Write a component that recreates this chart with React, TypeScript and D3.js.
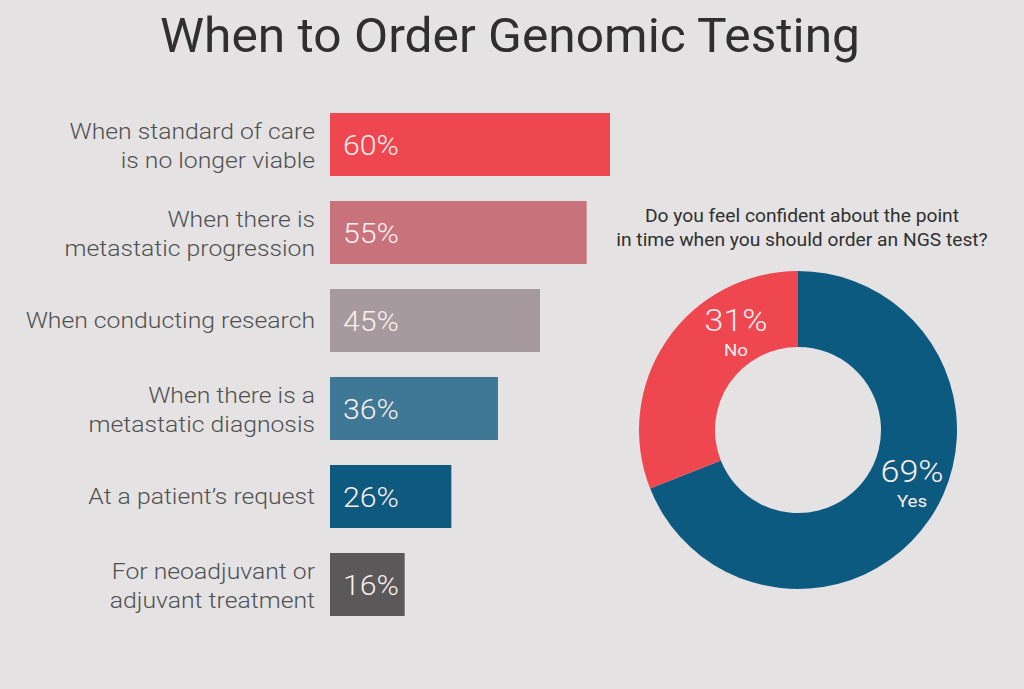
import React from "react";
import * as d3 from "d3";

const categories: string[][] = [
  ["When standard of care", "is no longer viable"],
  ["When there is", "metastatic progression"],
  ["When conducting research"],
  ["When there is a", "metastatic diagnosis"],
  ["At a patient\u2019s request"],
  ["For neoadjuvant or", "adjuvant treatment"],
];
const values = [60, 55, 45, 36, 26, 16];
const barColors = ["#ef4750", "#c8737c", "#a69a9e", "#3e7895", "#0e5a7e", "#5a5859"];

const donutLabels = ["Yes", "No"];
const donutValues = [69, 31];
const donutColors = ["#0d5a80", "#ef4750"];

const W = 1024;
const H = 689;
const BG = "#e4e2e3";
const FONT = "Roboto, 'Noto Sans', sans-serif";
const SX = 1.125;

export default function App() {
  const keys = categories.map((_, i) => String(i));
  const x = d3.scaleLinear().domain([0, 60]).range([330, 610]);
  const y = d3
    .scaleBand<string>()
    .domain(keys)
    .range([100.5, 628.5])
    .paddingInner(0.284)
    .paddingOuter(0.142);

  const cx = 798;
  const cy = 430;
  const outerR = 159;
  const innerR = 83;
  const pie = d3
    .pie<number>()
    .sort(null)
    .value((d) => d)
    .startAngle(0)
    .endAngle(Math.PI * 2);
  const arcs = pie(donutValues);
  const arcGen = d3.arc<d3.PieArcDatum<number>>().innerRadius(innerR).outerRadius(outerR);
  const labelPos = [
    [912, 472],
    [736, 321],
  ];

  return (
    <svg
      width={W}
      height={H}
      style={{ position: "absolute", left: 0, top: 0, display: "block" }}
      fontFamily={FONT}
    >
      <rect width={W} height={H} fill={BG} />
      <text
        x={510}
        y={52}
        textAnchor="middle"
        fontSize={49}
        fill="#2f2f2f"
        textLength={700}
        lengthAdjust="spacingAndGlyphs"
      >
        When to Order Genomic Testing
      </text>

      {values.map((v, i) => {
        const by = y(String(i))!;
        const bh = y.bandwidth();
        const mid = by + bh / 2;
        const lines = categories[i];
        return (
          <g key={i}>
            <rect x={x(0)} y={by} width={x(v) - x(0)} height={bh} fill={barColors[i]} />
            <text
              transform={`translate(${x(0) + 13},${mid + 1}) scale(1.1,1)`}
              dominantBaseline="central"
              fontSize={27.5}
              fontWeight={300}
              fill="#fbeeee"
            >
              {v}%
            </text>
            {lines.map((ln, j) => (
              <text
                key={j}
                transform={`translate(315,${mid + (lines.length === 1 ? 0 : j === 0 ? -13 : 16)}) scale(${SX},1)`}
                textAnchor="end"
                dominantBaseline="central"
                fontSize={22}
                fontWeight={300}
                fill="#505050"
              >
                {ln}
              </text>
            ))}
          </g>
        );
      })}

      <text
        transform="translate(802,216) scale(1.1,1)"
        textAnchor="middle"
        dominantBaseline="central"
        fontSize={17.5}
        fill="#303030"
      >
        Do you feel confident about the point
      </text>
      <text
        transform="translate(802,240) scale(1.1,1)"
        textAnchor="middle"
        dominantBaseline="central"
        fontSize={17.5}
        fill="#303030"
      >
        in time when you should order an NGS test?
      </text>

      <g transform={`translate(${cx},${cy})`}>
        {arcs.map((a, i) => (
          <path key={i} d={arcGen(a)!} fill={donutColors[i]} />
        ))}
      </g>
      {arcs.map((a, i) => (
        <g key={i}>
          <text
            transform={`translate(${labelPos[i][0]},${labelPos[i][1]}) scale(1.1,1)`}
            textAnchor="middle"
            dominantBaseline="central"
            fontSize={31}
            fontWeight={300}
            fill="#fbeeee"
          >
            {donutValues[i]}%
          </text>
          <text
            transform={`translate(${labelPos[i][0]},${labelPos[i][1] + 29}) scale(1.1,1)`}
            textAnchor="middle"
            dominantBaseline="central"
            fontSize={17}
            fill="#fbeeee"
          >
            {donutLabels[i]}
          </text>
        </g>
      ))}
    </svg>
  );
}
